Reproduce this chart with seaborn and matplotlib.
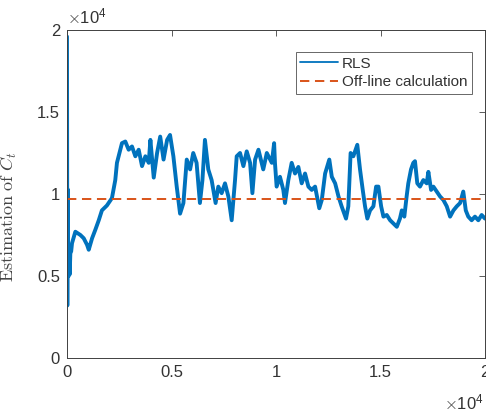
import matplotlib
matplotlib.use("Agg")
import matplotlib.pyplot as plt
import seaborn as sns
import pandas as pd
from matplotlib.ticker import FuncFormatter, FixedLocator

# ---- data ----
rls_t = [0, 15, 30, 50, 80, 100, 130, 160, 200, 240, 400, 640, 800, 960, 1040, 1200,
         1350, 1520, 1670, 1910, 2150, 2310, 2390, 2630, 2790, 2950, 3110, 3270, 3430,
         3590, 3750, 3910, 3990, 4150, 4310, 4460, 4620, 4790, 4930, 5090, 5250, 5410,
         5570, 5730, 5890, 6040, 6200, 6360, 6480, 6600, 6760, 6920, 7110, 7240, 7400,
         7560, 7720, 7880, 8040, 8120, 8280, 8440, 8600, 8760, 8870, 9000, 9160, 9390,
         9560, 9800, 9910, 9950, 10030, 10190, 10350, 10430, 10590, 10750, 10910, 11070,
         11230, 11390, 11550, 11710, 11870, 12070, 12190, 12350, 12550, 12670, 12830,
         12990, 13140, 13350, 13460, 13570, 13700, 13890, 14020, 14150, 14260, 14370,
         14500, 14660, 14790, 14900, 15030, 15140, 15300, 15460, 15620, 15780, 15930,
         16020, 16140, 16250, 16330, 16460, 16570, 16650, 16760, 16890, 17050, 17210,
         17290, 17420, 17530, 17690, 17850, 18010, 18170, 18330, 18490, 18650, 18810,
         18960, 19080, 19200, 19360, 19520, 19680, 19840, 20000]
rls_v = [19600, 3200, 10300, 5500, 5000, 6200, 5100, 6400, 6500, 7000, 7700, 7500, 7300,
         6900, 6600, 7300, 7800, 8400, 9000, 9300, 9750, 10850, 11900, 13100, 13200,
         12700, 12900, 12300, 12700, 11700, 12300, 11900, 13300, 11000, 12500, 13500,
         12100, 13300, 13600, 12300, 10450, 8800, 9450, 12100, 11500, 12500, 11900, 9450,
         10850, 13300, 11500, 10850, 9450, 10450, 10050, 10650, 9850, 8400, 10850, 12300,
         12500, 11700, 12600, 11900, 10050, 12100, 12700, 11500, 12500, 11900, 13100,
         11900, 10450, 11050, 10250, 9450, 10850, 11900, 11250, 11650, 10650, 11250,
         10450, 10250, 10450, 9130, 9630, 11250, 12100, 11050, 10650, 9850, 9250, 8500,
         9250, 12500, 12300, 13000, 11500, 10250, 9250, 8500, 9000, 9250, 10450, 10450,
         9250, 8620, 8720, 8400, 8200, 8000, 8500, 9000, 8620, 9850, 10650, 11500, 11900,
         12000, 10650, 10450, 10850, 10650, 11350, 10250, 10450, 10150, 9850, 9630, 9250,
         8620, 9000, 9250, 9450, 10150, 9000, 8620, 8400, 8620, 8400, 8720, 8500]
offline_t = [0, 20000]
offline_v = [9700, 9700]
series_names = ["RLS", "Off-line calculation"]
tick_vals_x = [0, 5000, 10000, 15000, 20000]
tick_vals_y = [0, 5000, 10000, 15000, 20000]

sns.set_style("white")
plt.rcParams["font.family"] = ["Liberation Sans", "DejaVu Sans"]
plt.rcParams["mathtext.fontset"] = "cm"

fig = plt.figure(figsize=(4.86, 4.16), dpi=100)
ax = fig.add_axes([67 / 486, 58 / 416, 418 / 486, 328 / 416])

df_rls = pd.DataFrame({"t": rls_t, "v": rls_v})
df_off = pd.DataFrame({"t": offline_t, "v": offline_v})

sns.lineplot(data=df_rls, x="t", y="v", ax=ax, estimator=None, sort=False,
             color="#0072BD", linewidth=2.8, label=series_names[0])
sns.lineplot(data=df_off, x="t", y="v", ax=ax, estimator=None, sort=False,
             color="#D95319", linewidth=1.4, label=series_names[1], dashes=False)
ax.lines[1].set_dashes((4.8, 2.9))

ax.set_xlim(0, 20000)
ax.set_ylim(0, 20000)
ax.xaxis.set_major_locator(FixedLocator(tick_vals_x))
ax.yaxis.set_major_locator(FixedLocator(tick_vals_y))
fmt = FuncFormatter(lambda v, p: f"{v / 1e4:g}")
ax.xaxis.set_major_formatter(fmt)
ax.yaxis.set_major_formatter(fmt)

tc = "#333333"
ax.tick_params(direction="in", length=4, width=0.6, colors="#404040",
               labelcolor=tc, labelsize=12, top=True, right=True, pad=5)
for s in ax.spines.values():
    s.set_color("#404040")
    s.set_linewidth(0.7)

ax.set_xlabel("")
ax.set_ylabel(r"$\mathrm{Estimation\ of}\ C_t$", fontsize=13, color="#444444", labelpad=6)
ax.yaxis.set_label_coords(-0.115, 0.43)

ax.text(0.0, 1.012, r"$\times\mathregular{10^{4}}$", transform=ax.transAxes,
        ha="left", va="bottom", fontsize=12, color=tc)
ax.text(0.998, -0.105, r"$\times\mathregular{10^{4}}$", transform=ax.transAxes,
        ha="right", va="top", fontsize=12, color=tc)

leg = ax.legend(loc="upper right", bbox_to_anchor=(0.968, 0.933), fontsize=11,
                frameon=True, fancybox=False, handlelength=2.5, borderpad=0.3,
                labelspacing=0.3, handletextpad=0.2, borderaxespad=0)
leg.get_frame().set_edgecolor("#404040")
leg.get_frame().set_linewidth(0.7)
for txt in leg.get_texts():
    txt.set_color(tc)
leg.get_lines()[0].set_linewidth(1.3)

fig.savefig("out.png", dpi=100)
